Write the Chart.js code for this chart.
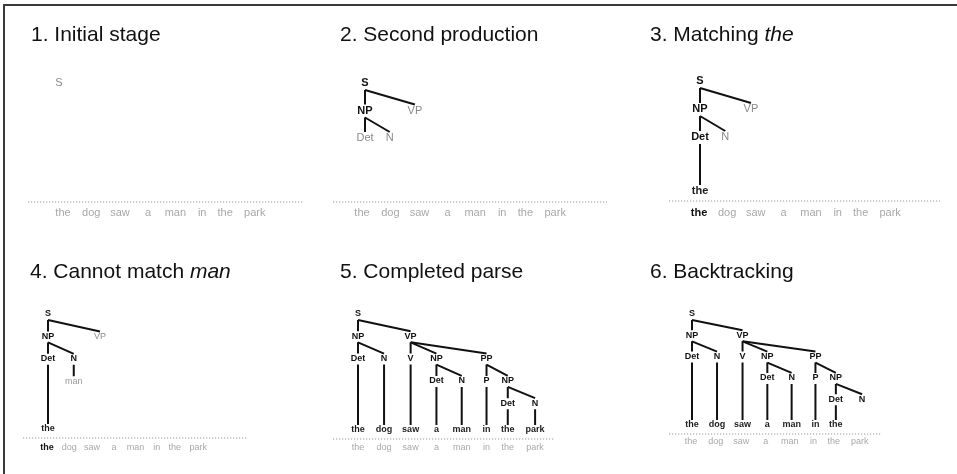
<!DOCTYPE html>
<html>
<head>
<meta charset="utf-8">
<script src="https://cdn.jsdelivr.net/npm/chart.js@4.4.1/dist/chart.umd.min.js"></script>
<style>
  body { margin: 0; background: #fff; width: 957px; height: 474px; overflow: hidden; position: relative; font-family: "Liberation Sans", Arial, sans-serif; }
  .frame { position: absolute; left: 3px; top: 4px; width: 980px; height: 500px; border-top: 2px solid #3a3a3a; border-left: 2px solid #3a3a3a; }
  canvas { position: absolute; }
  .title { position: absolute; font-size: 21px; line-height: 21px; color: #111; white-space: nowrap; }
</style>
</head>
<body>
<div class="frame"></div>
<script>
// the sentence being parsed
const words = ['the', 'dog', 'saw', 'a', 'man', 'in', 'the', 'park'];
// column offsets of the words (word units, narrow words sit a little closer)
const slotPos = [0, 1.03, 2.08, 3.1, 4.1, 5.08, 5.92, 7];

const titles = ['1. Initial stage', '2. Second production', '3. Matching <i>the</i>',
                '4. Cannot match <i>man</i>', '5. Completed parse', '6. Backtracking'];

// trees: [label, ...children]; 'X*' = not expanded yet (grey), '?word' = tried, not matched
const tree1 = ['S*'];
const tree2 = ['S', ['NP', ['Det*'], ['N*']], ['VP*']];
const tree3 = ['S', ['NP', ['Det', 'the'], ['N*']], ['VP*']];
const tree4 = ['S', ['NP', ['Det', 'the'], ['N', '?man']], ['VP*']];
const tree5 = ['S', ['NP', ['Det', 'the'], ['N', 'dog']],
  ['VP', ['V', 'saw'], ['NP', ['Det', 'a'], ['N', 'man']],
    ['PP', ['P', 'in'], ['NP', ['Det', 'the'], ['N', 'park']]]]];
const tree6 = ['S', ['NP', ['Det', 'the'], ['N', 'dog']],
  ['VP', ['V', 'saw'], ['NP', ['Det', 'a'], ['N', 'man']],
    ['PP', ['P', 'in'], ['NP', ['Det', 'the'], ['N']]]]];
const trees = [tree1, tree2, tree3, tree4, tree5, tree6];

// how many words of the input are already matched
const matched = [0, 0, 1, 1, 0, 0];

// layout of each panel (pixels): tree origin + unit, word row origin + unit, rows
const panels = [
  { left: 0,   top: 0,   w: 320, h: 237, titleX: 31, tree: [59, 83, 24.3, 27.5], leafY: 191, word: [63, 27.4], wordY: 213, dots: [28, 303, 202], font: 11, lw: 2, off: [7, 6] },
  { left: 320, top: 0,   w: 317, h: 237, titleX: 20, tree: [45, 83, 24, 27.5],   leafY: 191, word: [42, 27.6], wordY: 213, dots: [13, 287, 202], font: 11, lw: 2, off: [7, 6] },
  { left: 637, top: 0,   w: 320, h: 237, titleX: 13, tree: [63, 81, 24.5, 28],   leafY: 191, word: [62, 27.3], wordY: 213, dots: [32, 303, 201], font: 11, lw: 2, off: [7, 6] },
  { left: 0,   top: 237, w: 320, h: 237, titleX: 30, tree: [48, 77, 25, 22.4],   leafY: 192, word: [47, 21.6], wordY: 211, dots: [23, 247, 201], font: 9,  lw: 2, off: [6, 5] },
  { left: 320, top: 237, w: 317, h: 237, titleX: 20, tree: [38, 77, 25.3, 22.3], leafY: 193, word: [38, 25.3], wordY: 211, dots: [13, 235, 202], font: 9,  lw: 2, off: [6, 5] },
  { left: 637, top: 237, w: 320, h: 237, titleX: 13, tree: [55, 77, 24.3, 21.3], leafY: 188, word: [54, 24.1], wordY: 205, dots: [32, 245, 197], font: 9,  lw: 2, off: [6, 5] }
];

const FONT = '"Liberation Sans", Arial, sans-serif';
const colors = { cat: '#111', open: '#8a8a8a', word: '#1c1c1c', tried: '#9a9a9a', input: '#a8a8a8', done: '#111' };

function layoutTree(tree, leafLevel) {
  const nodes = [], edges = [];
  let next = 0;
  function walk(node, depth) {
    if (typeof node === 'string') {
      const tried = node.startsWith('?');
      const n = { label: tried ? node.slice(1) : node, col: next++, level: tried ? depth : leafLevel, kind: tried ? 'tried' : 'word' };
      nodes.push(n);
      return n;
    }
    const [label, ...kids] = node;
    const open = label.endsWith('*');
    const n = { label: open ? label.slice(0, -1) : label, level: depth, kind: open ? 'open' : 'cat' };
    nodes.push(n);
    if (!kids.length) { n.col = next++; return n; }
    const children = kids.map(k => walk(k, depth + 1));
    n.col = children[0].col;
    children.forEach(c => edges.push([n, c]));
    return n;
  }
  walk(tree, 0);
  return { nodes, edges };
}

// draws the text of every dataset that carries labels
const textPlugin = {
  id: 'treeText',
  afterDatasetsDraw(chart) {
    const ctx = chart.ctx;
    chart.data.datasets.forEach((ds, i) => {
      if (!ds.texts) return;
      const meta = chart.getDatasetMeta(i);
      meta.data.forEach((pt, j) => {
        const t = ds.texts[j];
        ctx.save();
        ctx.font = (t.bold ? 'bold ' : '') + t.size + 'px ' + FONT;
        ctx.fillStyle = t.color;
        ctx.textAlign = 'center';
        ctx.textBaseline = 'middle';
        ctx.fillText(t.text, pt.x, pt.y);
        ctx.restore();
      });
    });
  }
};

panels.forEach((p, k) => {
  const [tx0, ty0, tux, tuy] = p.tree;
  const [wx0, wux] = p.word;
  const lvl = py => (py - ty0) / tuy;
  const { nodes, edges } = layoutTree(trees[k], lvl(p.leafY));

  const canvas = document.createElement('canvas');
  canvas.width = p.w; canvas.height = p.h;
  canvas.style.left = p.left + 'px'; canvas.style.top = p.top + 'px';
  document.body.appendChild(canvas);

  const title = document.createElement('div');
  title.className = 'title';
  title.innerHTML = titles[k];
  title.style.left = (p.left + p.titleX) + 'px';
  title.style.top = (p.top + 23) + 'px';
  document.body.appendChild(title);

  const datasets = [];
  edges.forEach(([a, b]) => {
    datasets.push({
      type: 'line', xAxisID: 'x', yAxisID: 'y',
      data: [{ x: slotPos[a.col], y: a.level + p.off[0] / tuy }, { x: slotPos[b.col], y: b.level - p.off[1] / tuy }],
      borderColor: '#111', borderWidth: p.lw, pointRadius: 0, fill: false
    });
  });

  // dotted line above the input
  datasets.push({
    type: 'line', xAxisID: 'xw', yAxisID: 'y',
    data: [{ x: (p.dots[0] - wx0) / wux, y: lvl(p.dots[2]) }, { x: (p.dots[1] - wx0) / wux, y: lvl(p.dots[2]) }],
    borderColor: '#9a9a9a', borderWidth: 1.2, borderDash: [1.2, 1.8], pointRadius: 0, fill: false
  });

  // tree labels
  datasets.push({
    type: 'scatter', xAxisID: 'x', yAxisID: 'y', pointRadius: 0,
    data: nodes.map(n => ({ x: slotPos[n.col], y: n.level })),
    texts: nodes.map(n => ({ text: n.label, color: colors[n.kind], bold: n.kind === 'cat' || n.kind === 'word', size: p.font }))
  });

  // the input sentence
  datasets.push({
    type: 'scatter', xAxisID: 'xw', yAxisID: 'y', pointRadius: 0,
    data: words.map((w, i) => ({ x: slotPos[i], y: lvl(p.wordY) })),
    texts: words.map((w, i) => ({ text: w, color: i < matched[k] ? colors.done : colors.input, bold: i < matched[k], size: p.font }))
  });

  new Chart(canvas.getContext('2d'), {
    type: 'scatter',
    data: { datasets },
    options: {
      responsive: false,
      animation: false,
      events: [],
      layout: { padding: 0 },
      plugins: { legend: { display: false }, tooltip: { enabled: false }, title: { display: false } },
      scales: {
        x:  { type: 'linear', display: false, bounds: 'data', min: -tx0 / tux, max: (p.w - tx0) / tux },
        xw: { type: 'linear', display: false, bounds: 'data', min: -wx0 / wux, max: (p.w - wx0) / wux },
        y:  { type: 'linear', display: false, bounds: 'data', reverse: true, min: -ty0 / tuy, max: (p.h - ty0) / tuy }
      }
    },
    plugins: [textPlugin]
  });
});
</script>
</body>
</html>
